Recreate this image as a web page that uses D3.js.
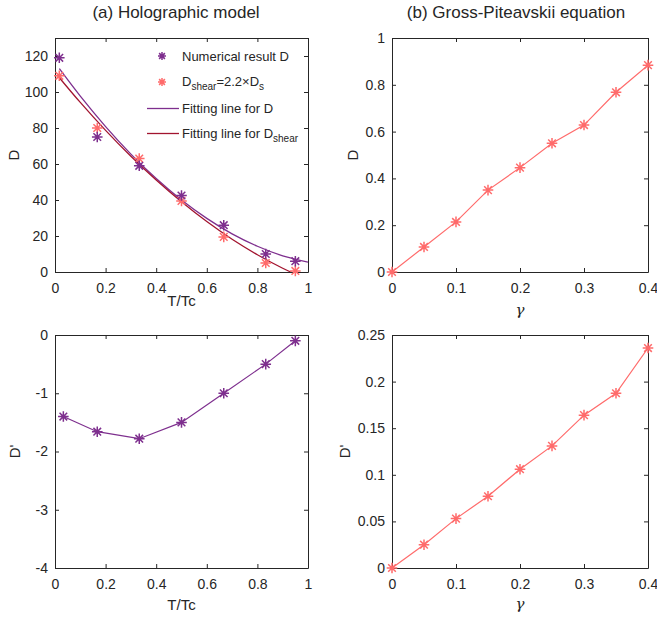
<!DOCTYPE html>
<html>
<head>
<meta charset="utf-8">
<script src="https://cdn.jsdelivr.net/npm/d3@7"></script>
<style>
  body { margin: 0; background: #fff; }
  svg text { font-family: "Liberation Sans", Arial, sans-serif; fill: #262626; }
</style>
</head>
<body>
<div id="chart"></div>
<script>
// ---- data ----
const holoT = [0.017, 0.167, 0.333, 0.5, 0.667, 0.833, 0.95];
const holoD = [119, 75, 59, 42.5, 26, 10, 6];
const holoDshear = [109, 80, 63, 39.5, 19.5, 5, 0.6];

const fitT = [0.017, 0.1, 0.2, 0.3, 0.4, 0.5, 0.6, 0.7, 0.8, 0.9, 1.0];
const fitD = [113, 97.7, 80.8, 65.5, 51.9, 40, 29.8, 21.2, 14.3, 9.0, 5.5];
const fitDshear = [108, 94.2, 78.7, 64.3, 51.1, 39, 28, 18.2, 9.6, 2.1, -4.3];

const holoT2 = [0.033, 0.167, 0.333, 0.5, 0.667, 0.833, 0.95];
const holoDprime = [-1.4, -1.66, -1.78, -1.5, -1.0, -0.5, -0.1];

const gamma = [0, 0.05, 0.1, 0.15, 0.2, 0.25, 0.3, 0.35, 0.4];
const gpD = [0, 0.107, 0.214, 0.35, 0.446, 0.55, 0.628, 0.768, 0.884];
const gpDprime = [0, 0.025, 0.053, 0.077, 0.106, 0.131, 0.164, 0.1875, 0.236];

const ticksHoloX = [0, 0.2, 0.4, 0.6, 0.8, 1];
const ticksHoloY = [0, 20, 40, 60, 80, 100, 120];
const ticksHoloY2 = [-4, -3, -2, -1, 0];
const ticksGpX = [0, 0.1, 0.2, 0.3, 0.4];
const ticksGpY = [0, 0.2, 0.4, 0.6, 0.8, 1];
const ticksGpY2 = [0, 0.05, 0.1, 0.15, 0.2, 0.25];

const purple = "#7E2F8E";
const salmon = "#FF6B6B";
const darkRed = "#A2142F";
const axisColor = "#262626";

// plain hyphen for negatives, like the original
const fmt = (d) => String(+d.toFixed(4));

const svg = d3.select("#chart").append("svg")
    .attr("width", 657)
    .attr("height", 621);

// draws one box with inward ticks on all four sides
function makePanel(box, xDomain, yDomain, xTicks, yTicks) {
    const x = d3.scaleLinear().domain(xDomain).range([box.left, box.right]);
    const y = d3.scaleLinear().domain(yDomain).range([box.bottom, box.top]);
    const g = svg.append("g");

    const tick = 4;
    g.append("g")
        .attr("transform", `translate(0,${box.bottom})`)
        .call(d3.axisBottom(x).tickValues(xTicks).tickSizeInner(-tick).tickSizeOuter(0)
            .tickPadding(11).tickFormat(fmt));
    g.append("g")
        .attr("transform", `translate(0,${box.top})`)
        .call(d3.axisTop(x).tickValues(xTicks).tickSizeInner(-tick).tickSizeOuter(0).tickFormat(""));
    g.append("g")
        .attr("transform", `translate(${box.left},0)`)
        .call(d3.axisLeft(y).tickValues(yTicks).tickSizeInner(-tick).tickSizeOuter(0)
            .tickPadding(7).tickFormat(fmt));
    g.append("g")
        .attr("transform", `translate(${box.right},0)`)
        .call(d3.axisRight(y).tickValues(yTicks).tickSizeInner(-tick).tickSizeOuter(0).tickFormat(""));

    g.selectAll(".domain").attr("stroke", axisColor);
    g.selectAll(".tick line").attr("stroke", axisColor);
    g.selectAll(".tick text")
        .style("font-size", "14px")
        .style("font-family", "'Liberation Sans', Arial, sans-serif")
        .attr("fill", axisColor);

    const clipId = "clip" + Math.round(box.left) + "_" + Math.round(box.top);
    svg.append("clipPath").attr("id", clipId)
        .append("rect")
        .attr("x", box.left).attr("y", box.top)
        .attr("width", box.right - box.left).attr("height", box.bottom - box.top);

    return { x, y, g, clipId };
}

function asterisk(sel, cx, cy, color, r) {
    r = r || 5.3;
    const d = r * 0.72;
    const p = `M${cx - r},${cy}L${cx + r},${cy}M${cx},${cy - r}L${cx},${cy + r}` +
        `M${cx - d},${cy - d}L${cx + d},${cy + d}M${cx - d},${cy + d}L${cx + d},${cy - d}`;
    sel.append("path").attr("d", p).attr("stroke", color).attr("stroke-width", 1.5).attr("fill", "none");
}

function drawLine(p, xs, ys, color, curve, width) {
    const pts = xs.map((v, i) => [v, ys[i]]);
    p.g.append("path")
        .datum(pts)
        .attr("clip-path", `url(#${p.clipId})`)
        .attr("fill", "none")
        .attr("stroke", color)
        .attr("stroke-width", width || 1.2)
        .attr("d", d3.line().x((d) => p.x(d[0])).y((d) => p.y(d[1])).curve(curve || d3.curveLinear));
}

function drawMarkers(p, xs, ys, color) {
    xs.forEach((v, i) => asterisk(p.g, p.x(v), p.y(ys[i]), color));
}

function xLabel(p, text, yPos, italic) {
    const t = svg.append("text")
        .attr("x", (p.x.range()[0] + p.x.range()[1]) / 2)
        .attr("y", yPos)
        .attr("text-anchor", "middle")
        .style("font-size", "15px")
        .text(text);
    if (italic) t.style("font-family", "'DejaVu Serif', serif").style("font-style", "italic");
}

function yLabel(p, text, xPos) {
    const cy = (p.y.range()[0] + p.y.range()[1]) / 2;
    svg.append("text")
        .attr("transform", `translate(${xPos},${cy}) rotate(-90)`)
        .attr("text-anchor", "middle")
        .style("font-size", "15px")
        .text(text);
}

// ---- (a) top: D vs T/Tc ----
const pA = makePanel({ left: 55, right: 308, top: 38, bottom: 272 },
    [0, 1], [0, 130], ticksHoloX, ticksHoloY);
drawLine(pA, fitT, fitD, purple, d3.curveNatural, 1.3);
drawLine(pA, fitT, fitDshear, darkRed, d3.curveNatural, 1.3);
drawMarkers(pA, holoT, holoDshear, salmon);
drawMarkers(pA, holoT, holoD, purple);
xLabel(pA, "T/Tc", 306);
yLabel(pA, "D", 19);

// legend
const leg = svg.append("g");
asterisk(leg, 162, 56, purple, 4);
leg.append("text").attr("x", 182).attr("y", 61).style("font-size", "13px").text("Numerical result D");
asterisk(leg, 162, 82, salmon, 4);
const t2 = leg.append("text").attr("x", 182).attr("y", 86).style("font-size", "13px");
t2.append("tspan").text("D");
t2.append("tspan").attr("dy", 4).style("font-size", "10px").text("shear");
t2.append("tspan").attr("dy", -4).text("=2.2\u00D7D");
t2.append("tspan").attr("dy", 4).style("font-size", "10px").text("s");
leg.append("line").attr("x1", 147).attr("x2", 179).attr("y1", 108.5).attr("y2", 108.5)
    .attr("stroke", purple).attr("stroke-width", 1.3);
leg.append("text").attr("x", 182).attr("y", 113).style("font-size", "13px").text("Fitting line for D");
leg.append("line").attr("x1", 147).attr("x2", 179).attr("y1", 133.5).attr("y2", 133.5)
    .attr("stroke", darkRed).attr("stroke-width", 1.3);
const t4 = leg.append("text").attr("x", 182).attr("y", 138).style("font-size", "13px");
t4.append("tspan").text("Fitting line for D");
t4.append("tspan").attr("dy", 4).style("font-size", "10px").text("shear");

svg.append("text").attr("x", 176).attr("y", 18).attr("text-anchor", "middle")
    .style("font-size", "17px").text("(a) Holographic model");

// ---- (a) bottom: D' vs T/Tc ----
const pC = makePanel({ left: 55, right: 308, top: 335, bottom: 568 },
    [0, 1], [-4, 0], ticksHoloX, ticksHoloY2);
drawLine(pC, holoT2, holoDprime, purple);
drawMarkers(pC, holoT2, holoDprime, purple);
xLabel(pC, "T/Tc", 610);
yLabel(pC, "D'", 20);

// ---- (b) top: D vs gamma ----
const pB = makePanel({ left: 392, right: 648, top: 38, bottom: 272 },
    [0, 0.4], [0, 1], ticksGpX, ticksGpY);
drawLine(pB, gamma, gpD, salmon);
drawMarkers(pB, gamma, gpD, salmon);
xLabel(pB, "\u03B3", 315, true);
yLabel(pB, "D", 358);

svg.append("text").attr("x", 516).attr("y", 18).attr("text-anchor", "middle")
    .style("font-size", "17px").text("(b) Gross-Piteavskii equation");

// ---- (b) bottom: D' vs gamma ----
const pD = makePanel({ left: 392, right: 648, top: 335, bottom: 568 },
    [0, 0.4], [0, 0.25], ticksGpX, ticksGpY2);
drawLine(pD, gamma, gpDprime, salmon);
drawMarkers(pD, gamma, gpDprime, salmon);
xLabel(pD, "\u03B3", 609, true);
yLabel(pD, "D'", 350);
</script>
</body>
</html>
